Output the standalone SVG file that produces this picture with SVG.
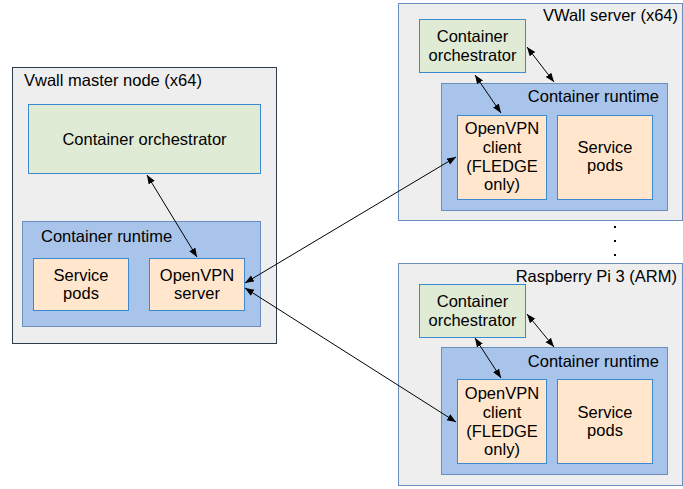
<svg xmlns="http://www.w3.org/2000/svg" width="683" height="489" viewBox="0 0 683 489">
<style>
.host{fill:#eeeeee;stroke:#6c8ebf;stroke-width:1}
.hostL{fill:#eeeeee;stroke:#2f3a4a;stroke-width:1}
.orch{fill:#e0ebd5;stroke:#3b8ad0;stroke-width:1}
.rt{fill:#a9c4eb;stroke:#6c8ebf;stroke-width:1}
.pod{fill:#ffe6cc;stroke:#3b8ad0;stroke-width:1}
text{font-family:"Liberation Sans",Arial,sans-serif;font-size:16.5px;fill:#000}
.c{text-anchor:middle}
.e{text-anchor:end}
.ln{stroke:#000;stroke-width:1;fill:none;marker-start:url(#ah);marker-end:url(#ah)}
</style>
<defs>
<marker id="ah" markerUnits="userSpaceOnUse" markerWidth="10" markerHeight="8" refX="9" refY="3.5" orient="auto-start-reverse">
<path d="M0,0 L9,3.5 L0,7 z" fill="#000"/>
</marker>
</defs>
<g id="master">
<rect class="hostL" x="12.5" y="67.5" width="264" height="276"/>
<text x="24" y="86">Vwall master node (x64)</text>
<g id="master-orch">
<rect class="orch" x="28.5" y="104.5" width="232" height="69"/>
<text class="c" x="144.5" y="145">Container orchestrator</text>
</g>
<g id="master-runtime">
<rect class="rt" x="22.5" y="221.5" width="238" height="105"/>
<text x="41" y="242">Container runtime</text>
</g>
<g id="master-pods">
<rect class="pod" x="33.5" y="258.5" width="95" height="52"/>
<text class="c" x="81" y="281">Service</text>
<text class="c" x="81" y="299">pods</text>
</g>
<g id="master-vpn">
<rect class="pod" x="149.5" y="258.5" width="95" height="52"/>
<text class="c" x="197" y="281">OpenVPN</text>
<text class="c" x="197" y="299">server</text>
</g>
</g>
<g id="vwall">
<rect class="host" x="398.5" y="3.5" width="284" height="217"/>
<text class="e" x="678" y="21">VWall server (x64)</text>
<g id="vwall-orch">
<rect class="orch" x="419.5" y="19.5" width="106" height="53"/>
<text class="c" x="472.5" y="42">Container</text>
<text class="c" x="472.5" y="61">orchestrator</text>
</g>
<g id="vwall-runtime">
<rect class="rt" x="441.5" y="83.5" width="226" height="127"/>
<text class="e" x="659" y="102">Container runtime</text>
</g>
<g id="vwall-vpn">
<rect class="pod" x="457.5" y="115.5" width="89" height="84"/>
<text class="c" x="502" y="134">OpenVPN</text>
<text class="c" x="502" y="153">client</text>
<text class="c" x="502" y="172">(FLEDGE</text>
<text class="c" x="502" y="190">only)</text>
</g>
<g id="vwall-pods">
<rect class="pod" x="557.5" y="115.5" width="95" height="84"/>
<text class="c" x="605" y="153">Service</text>
<text class="c" x="605" y="171">pods</text>
</g>
</g>
<g id="dots" fill="#000">
<rect x="614" y="226" width="2" height="2"/>
<rect x="614" y="240" width="2" height="2"/>
<rect x="614" y="254" width="2" height="2"/>
</g>
<g id="rpi">
<rect class="host" x="398.5" y="263.5" width="284" height="222"/>
<text class="e" x="677" y="282">Raspberry Pi 3 (ARM)</text>
<g id="rpi-orch">
<rect class="orch" x="419.5" y="284.5" width="106" height="53"/>
<text class="c" x="472.5" y="307">Container</text>
<text class="c" x="472.5" y="326">orchestrator</text>
</g>
<g id="rpi-runtime">
<rect class="rt" x="441.5" y="347.5" width="226" height="127"/>
<text class="e" x="659" y="367">Container runtime</text>
</g>
<g id="rpi-vpn">
<rect class="pod" x="457.5" y="379.5" width="89" height="84"/>
<text class="c" x="502" y="399">OpenVPN</text>
<text class="c" x="502" y="418">client</text>
<text class="c" x="502" y="437">(FLEDGE</text>
<text class="c" x="502" y="455">only)</text>
</g>
<g id="rpi-pods">
<rect class="pod" x="557.5" y="379.5" width="95" height="84"/>
<text class="c" x="605" y="418">Service</text>
<text class="c" x="605" y="436">pods</text>
</g>
</g>
<g id="connectors">
<line class="ln" x1="147" y1="175" x2="197" y2="257"/>
<line class="ln" x1="245" y1="283" x2="456" y2="157"/>
<line class="ln" x1="245" y1="288" x2="456" y2="422"/>
<line class="ln" x1="527" y1="47" x2="554" y2="82"/>
<line class="ln" x1="475" y1="75" x2="501" y2="113"/>
<line class="ln" x1="527" y1="314" x2="554" y2="347"/>
<line class="ln" x1="475" y1="338" x2="501" y2="378"/>
</g>
</svg>
